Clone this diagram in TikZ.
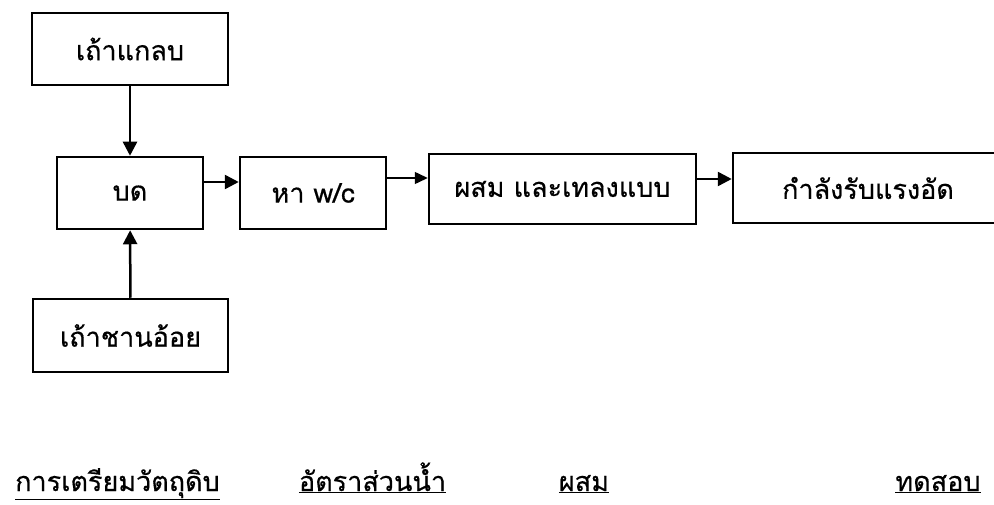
\documentclass[tikz,border=0pt]{standalone}
\usepackage{fontspec}
\newfontfamily\thaifont[Script=Thai,FakeBold=0.5]{Loma}
\usetikzlibrary{arrows.meta}
\begin{document}
\begin{tikzpicture}[x=1pt,y=-1pt,
  box/.style={draw,line width=2.5pt,minimum width=#1,inner sep=0pt,font=\thaifont\fontsize{27}{31}\selectfont},
  arr/.style={line width=2.5pt,-{Triangle[length=14pt,width=14pt]}},
  thinarr/.style={line width=1.5pt,-{Triangle[length=13pt,width=12pt]}},
  lbl/.style={inner sep=0pt,anchor=base,font=\thaifont\fontsize{27}{31}\selectfont}]
\useasboundingbox (0,0) rectangle (994,505);
\node[box=196pt,minimum height=72pt] (n1) at (130,49) {เถ้าแกลบ};
\node[box=146pt,minimum height=72pt] (n2) at (130,193) {บด};
\node[box=195pt,minimum height=73pt] (n3) at (130.5,335.5) {เถ้าชานอ้อย};
\node[box=146pt,minimum height=72pt] (n4) at (313,193) {หา w/c};
\node[box=267pt,minimum height=70pt] (n5) at (562.5,189) {ผสม และเทลงแบบ};
\node[box=270pt,minimum height=70pt] (n6) at (868,188) {กำลังรับแรงอัด};
\coordinate (ya) at (0,182);
\coordinate (yb) at (0,178);
\coordinate (yc) at (0,179);
\draw[arr] (n1) -- (n2);
\draw[arr] (n3) -- (n2);
\draw[arr] (n2.east |- ya) -- (n4.west |- ya);
\draw[thinarr] (n4.east |- yb) -- (n5.west |- yb);
\draw[arr] (n5.east |- yc) -- (n6.west |- yc);
\node[lbl] (l1) at (117.5,491) {\underline{การเตรียมวัตถุดิบ}};
\node[lbl] (l2) at (372.5,491) {\underline{อัตราส่วนน้ำ}};
\node[lbl] (l3) at (584,491) {\underline{ผสม}};
\node[lbl] (l4) at (938,491) {\underline{ทดสอบ}};
\end{tikzpicture}
\end{document}
